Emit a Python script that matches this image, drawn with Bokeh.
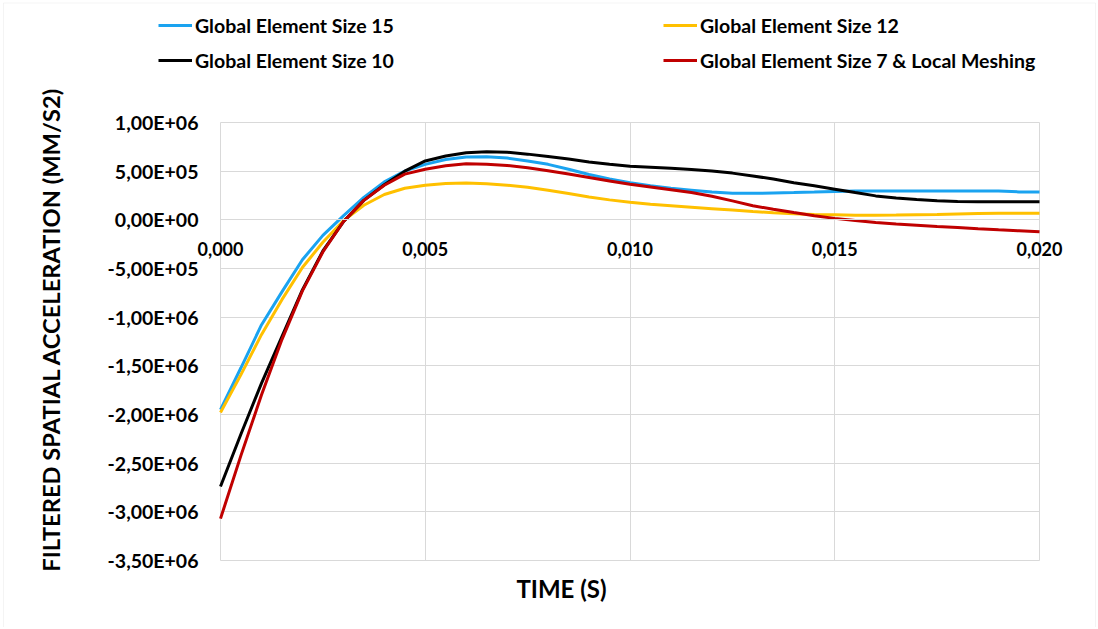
from bokeh.plotting import figure
from bokeh.models import Range1d, FixedTicker, Legend, LegendItem, Label, BoxAnnotation
from bokeh.embed import file_html
from bokeh.resources import INLINE

time_s = [0.0, 0.0005, 0.001, 0.0015, 0.002, 0.0025, 0.003, 0.0035, 0.004, 0.0045,
          0.005, 0.0055, 0.006, 0.0065, 0.007, 0.0075, 0.008, 0.0085, 0.009, 0.0095,
          0.010, 0.0105, 0.011, 0.0115, 0.012, 0.0125, 0.013, 0.0135, 0.014, 0.0145,
          0.015, 0.0155, 0.016, 0.0165, 0.017, 0.0175, 0.018, 0.0185, 0.019, 0.0195, 0.020]

size15 = [-1.95e6, -1.52e6, -1.08e6, -7.4e5, -4.1e5, -1.6e5, 4.0e4, 2.3e5, 3.9e5, 5.0e5,
          5.7e5, 6.2e5, 6.45e5, 6.47e5, 6.35e5, 6.05e5, 5.7e5, 5.2e5, 4.65e5, 4.2e5,
          3.8e5, 3.5e5, 3.25e5, 3.05e5, 2.85e5, 2.72e5, 2.72e5, 2.76e5, 2.8e5, 2.85e5,
          2.92e5, 2.96e5, 2.97e5, 2.97e5, 2.97e5, 2.97e5, 2.97e5, 2.97e5, 2.97e5, 2.87e5, 2.85e5]

size12 = [-1.98e6, -1.59e6, -1.18e6, -8.2e5, -4.9e5, -2.3e5, -1.0e4, 1.5e5, 2.6e5, 3.25e5,
          3.55e5, 3.73e5, 3.78e5, 3.7e5, 3.55e5, 3.35e5, 3.05e5, 2.7e5, 2.35e5, 2.05e5,
          1.8e5, 1.6e5, 1.45e5, 1.3e5, 1.15e5, 1.0e5, 8.5e4, 7.3e4, 6.3e4, 5.6e4,
          5.2e4, 4.8e4, 4.8e4, 5.0e4, 5.3e4, 5.6e4, 6.0e4, 6.4e4, 6.7e4, 6.8e4, 6.8e4]

size10 = [-2.74e6, -2.20e6, -1.68e6, -1.20e6, -7.2e5, -3.2e5, -2.0e4, 2.0e5, 3.6e5, 5.0e5,
          6.05e5, 6.55e5, 6.9e5, 7.0e5, 6.95e5, 6.75e5, 6.5e5, 6.25e5, 5.95e5, 5.7e5,
          5.5e5, 5.4e5, 5.3e5, 5.18e5, 5.02e5, 4.8e5, 4.5e5, 4.2e5, 3.82e5, 3.5e5,
          3.15e5, 2.8e5, 2.46e5, 2.25e5, 2.08e5, 1.95e5, 1.88e5, 1.85e5, 1.85e5, 1.85e5, 1.85e5]

size7_local = [-3.07e6, -2.42e6, -1.80e6, -1.23e6, -7.3e5, -3.3e5, -2.0e4, 2.0e5, 3.55e5, 4.7e5,
               5.2e5, 5.55e5, 5.75e5, 5.72e5, 5.58e5, 5.35e5, 5.05e5, 4.7e5, 4.35e5, 4.0e5,
               3.65e5, 3.38e5, 3.1e5, 2.8e5, 2.42e5, 1.95e5, 1.45e5, 1.08e5, 7.5e4, 4.3e4,
               1.5e4, -8.0e3, -2.7e4, -4.2e4, -5.5e4, -6.8e4, -8.0e4, -9.2e4, -1.03e5, -1.13e5, -1.23e5]

series_names = ["Global Element Size 15", "Global Element Size 12",
                "Global Element Size 10", "Global Element Size 7 & Local Meshing"]
series_colors = ["#1AA3F0", "#FFC000", "#000000", "#C00000"]

x_ticks = [0.0, 0.005, 0.010, 0.015, 0.020]
x_tick_labels = ["0,000", "0,005", "0,010", "0,015", "0,020"]
y_ticks = [1.0e6, 5.0e5, 0.0, -5.0e5, -1.0e6, -1.5e6, -2.0e6, -2.5e6, -3.0e6, -3.5e6]
y_tick_labels = ["1,00E+06", "5,00E+05", "0,00E+00", "-5,00E+05", "-1,00E+06",
                 "-1,50E+06", "-2,00E+06", "-2,50E+06", "-3,00E+06", "-3,50E+06"]

x_title = "TIME (S)"
y_title = "FILTERED SPATIAL ACCELERATION (MM/S2)"

FONT = "Lato"
GRID = "#d9d9d9"

# ---- layout (pixels) ----
W, H = 1096, 627
PL, PR, PT, PB = 220, 1039, 122, 560      # plot-area box on the canvas
X0, X1 = x_ticks[0], x_ticks[-1]
Y0, Y1 = y_ticks[-1], y_ticks[0]
sx = (X1 - X0) / (PR - PL)
sy = (Y1 - Y0) / (PB - PT)
x_range = Range1d(X0 - PL * sx, X1 + (W - PR) * sx)
y_range = Range1d(Y0 - (H - PB) * sy, Y1 + PT * sy)

p = figure(width=W, height=H, output_backend="svg", toolbar_location=None,
           x_range=x_range, y_range=y_range,
           min_border=0, min_border_left=0, min_border_right=0,
           min_border_top=0, min_border_bottom=0)
p.background_fill_color = "white"
p.border_fill_color = "white"
p.outline_line_color = None

# light chart-area border (bottom edge lies below the visible page)
p.add_layout(BoxAnnotation(left=x_range.start + 3 * sx, right=x_range.start + 1095 * sx,
                           top=y_range.end - 2.5 * sy, bottom=y_range.start - 20 * sy,
                           fill_color=None, fill_alpha=0, line_color=GRID, line_width=1,
                           level="underlay"))

# x axis crossing at y = 0
xa = p.xaxis[0]
xa.fixed_location = 0.0
xa.bounds = (X0, X1)
xa.ticker = FixedTicker(ticks=x_ticks)
xa.major_label_overrides = {t: s for t, s in zip(x_ticks, x_tick_labels)}
xa.axis_line_color = GRID
xa.major_tick_line_color = None
xa.minor_tick_line_color = None
xa.major_tick_out = 0
xa.major_tick_in = 0
xa.major_label_text_font = FONT
xa.major_label_text_font_style = "bold"
xa.major_label_text_font_size = "18px"
xa.major_label_text_color = "#000000"
xa.major_label_standoff = 22

# y axis at x = 0
ya = p.yaxis[0]
ya.fixed_location = X0
ya.bounds = (Y0, Y1 + 2.5e5)
ya.ticker = FixedTicker(ticks=y_ticks)
ya.major_label_overrides = {t: s for t, s in zip(y_ticks, y_tick_labels)}
ya.axis_line_color = None
ya.major_tick_line_color = None
ya.minor_tick_line_color = None
ya.major_tick_out = 0
ya.major_tick_in = 0
ya.major_label_text_font = FONT
ya.major_label_text_font_style = "bold"
ya.major_label_text_font_size = "19.5px"
ya.major_label_text_color = "#000000"
ya.major_label_standoff = 22
ya.axis_label = y_title
ya.axis_label_text_font = FONT
ya.axis_label_text_font_style = "bold"
ya.axis_label_text_font_size = "23.7px"
ya.axis_label_text_color = "#000000"
ya.axis_label_standoff = 40

p.xgrid.ticker = FixedTicker(ticks=x_ticks)
p.ygrid.ticker = FixedTicker(ticks=y_ticks)
p.xgrid.grid_line_color = GRID
p.ygrid.grid_line_color = GRID
p.xgrid.cross_bounds = (Y0, Y1)
p.ygrid.cross_bounds = (X0, X1)

p.add_layout(Label(x=561, y=H - 588, x_units="screen", y_units="screen", text=x_title,
                   text_align="center", text_baseline="middle", text_font=FONT,
                   text_font_style="bold", text_font_size="24px", text_color="#000000"))

series = [size15, size12, size10, size7_local]
renderers = []
for ys, c in zip(series, series_colors):
    r = p.line(time_s, ys, line_color=c, line_width=3)
    renderers.append(r)

items = [LegendItem(label=n, renderers=[r]) for n, r in zip(series_names, renderers)]
legend = Legend(items=items, location=(158, H - 71.5), ncols=2, orientation="horizontal",
                glyph_width=34, glyph_height=20, label_height=23, label_width=456,
                label_standoff=3, spacing=12, padding=0, margin=0,
                border_line_color=None, background_fill_alpha=0,
                label_text_font=FONT, label_text_font_style="bold",
                label_text_font_size="19.5px", label_text_color="#000000")
p.add_layout(legend, "center")

open("out.html", "w").write(file_html(p, INLINE))
